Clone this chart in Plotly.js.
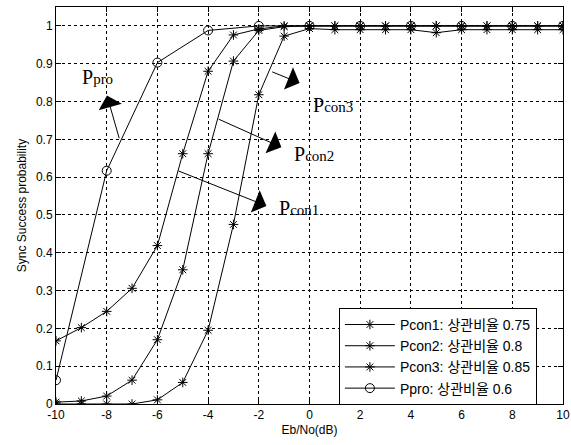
<!DOCTYPE html>
<html>
<head>
<meta charset="utf-8">
<script src="https://cdn.plot.ly/plotly-3.0.1.min.js"></script>
<style>html,body{margin:0;padding:0;background:#fff}#chart{width:571px;height:445px}</style>
</head>
<body>
<div id="chart"></div>
<script>
// ---- data ----
const ebno = [-10,-9,-8,-7,-6,-5,-4,-3,-2,-1,0,1,2,3,4,5,6,7,8,9,10];
const pcon1 = [0,0,0,0,0.011,0.057,0.195,0.475,0.818,0.973,0.993,0.99,0.99,0.99,0.99,0.982,0.99,0.99,0.99,0.99,0.99];
const pcon2 = [0.005,0.008,0.021,0.063,0.17,0.355,0.662,0.907,0.988,0.998,1,1,1,1,1,1,1,1,1,1,1];
const pcon3 = [0.167,0.202,0.245,0.306,0.419,0.662,0.88,0.976,0.992,1,1,1,1,1,1,1,1,1,1,1,1];
const ebnoPro = [-10,-8,-6,-4,-2,0,2,4,6,8,10];
const ppro = [0.063,0.617,0.903,0.988,1,1,1,1,1,1,1];
const seriesNames = ["Pcon1: 상관비율 0.75","Pcon2: 상관비율 0.8","Pcon3: 상관비율 0.85","Ppro: 상관비율 0.6"];
const xTickVals = [-10,-8,-6,-4,-2,0,2,4,6,8,10];
const xTickText = ["-10","-8","-6","-4","-2","0","2","4","6","8","10"];
const yTickVals = [0,0.1,0.2,0.3,0.4,0.5,0.6,0.7,0.8,0.9,1];
const yTickText = ["0","0.1","0.2","0.3","0.4","0.5","0.6","0.7","0.8","0.9","1"];
// annotation labels: [main, subscript, x, y]
const labels = [
  ["P", "pro", -9.05, 0.866],
  ["P", "con3", 0.07, 0.790],
  ["P", "con2", -0.70, 0.662],
  ["P", "con1", -1.30, 0.518]
];
// arrows: [tipX, tipY, tailX, tailY]
const arrows = [
  [-7.99, 0.816, -7.49, 0.699],
  [-0.39, 0.849, -1.53, 0.880],
  [-1.11, 0.679, -3.64, 0.755],
  [-1.70, 0.524, -5.23, 0.618]
];

const black = '#000';
const starMarker = {symbol:'asterisk-open', size:8, color:black, line:{color:black, width:1}};
const traces = [
  {x: ebno, y: pcon1, name: seriesNames[0], mode:'lines+markers', line:{color:black,width:1}, marker: starMarker},
  {x: ebno, y: pcon2, name: seriesNames[1], mode:'lines+markers', line:{color:black,width:1}, marker: starMarker},
  {x: ebno, y: pcon3, name: seriesNames[2], mode:'lines+markers', line:{color:black,width:1}, marker: starMarker},
  {x: ebnoPro, y: ppro, name: seriesNames[3], mode:'lines+markers', line:{color:black,width:1},
   marker:{symbol:'circle-open', size:9, color:black, line:{color:black,width:1}}}
];

const annotations = [];
labels.forEach(l => annotations.push({
  text: l[0] + "<span style='font-size:15px'>" + l[1] + "</span>", x: l[2], y: l[3], xref:'x', yref:'y', showarrow:false,
  xanchor:'left', yanchor:'middle',
  font:{family:'Liberation Serif, Times New Roman, serif', size:20, color:black}
}));
arrows.forEach(a => annotations.push({
  text:'', x:a[0], y:a[1], ax:a[2], ay:a[3], xref:'x', yref:'y', axref:'x', ayref:'y',
  showarrow:true, arrowhead:1, arrowsize:4, arrowwidth:1, arrowcolor:black, standoff:0, startstandoff:0
}));

const axisCommon = {
  showline:true, linecolor:black, linewidth:1, mirror:'ticks',
  ticks:'inside', ticklen:5, tickcolor:black, tickwidth:1,
  showgrid:true, gridcolor:black, griddash:'dot', gridwidth:1,
  zeroline:false,
  tickfont:{family:'Liberation Sans, Arial, sans-serif', size:12, color:black}
};

const layout = {
  width:571, height:445,
  paper_bgcolor:'#fff', plot_bgcolor:'#fff',
  margin:{l:56, r:8, t:7, b:41},
  showlegend:true,
  legend:{
    x:0.558, y:0.242, xanchor:'left', yanchor:'top',
    bgcolor:'#fff', bordercolor:black, borderwidth:1,
    font:{family:'Liberation Sans, Noto Sans CJK KR, sans-serif', size:14, color:black},
    itemwidth:50, tracegroupgap:0
  },
  xaxis: Object.assign({}, axisCommon, {
    range:[-10,10], tickvals:xTickVals, ticktext:xTickText,
    title:{text:'Eb/No(dB)', standoff:4, font:{family:'Liberation Sans, Arial, sans-serif', size:12, color:black}}
  }),
  yaxis: Object.assign({}, axisCommon, {
    range:[0,1.05], tickvals:yTickVals, ticktext:yTickText,
    title:{text:'Sync Success probability', standoff:6, font:{family:'Liberation Sans, Arial, sans-serif', size:12, color:black}}
  }),
  annotations: annotations
};

Plotly.newPlot('chart', traces, layout, {displayModeBar:false, staticPlot:true});
</script>
</body>
</html>
